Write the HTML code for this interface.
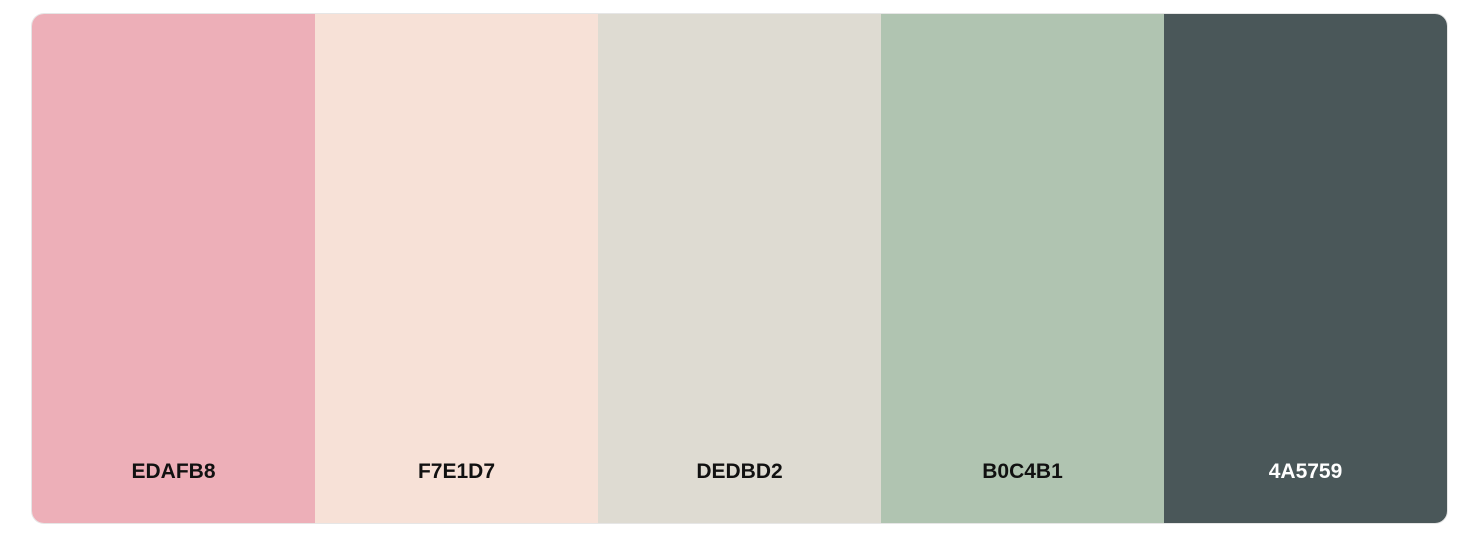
<!DOCTYPE html>
<html><head><meta charset="utf-8"><style>
html,body{margin:0;padding:0;background:#fff;width:1464px;height:543px;overflow:hidden}
#palette{position:absolute;left:32px;top:14px;width:1415px;height:509px;border-radius:12px;overflow:hidden;display:flex;box-shadow:0 0 0 1px #e6e6e6}
.sw{width:283px;height:509px;position:relative}
.sw span{position:absolute;left:0;right:0;top:446px;text-align:center;font:bold 21px "Liberation Sans",sans-serif;color:#111}
</style></head><body>
<div id="palette">
<div class="sw" style="background:#EDAFB8"><span>EDAFB8</span></div>
<div class="sw" style="background:#F7E1D7"><span>F7E1D7</span></div>
<div class="sw" style="background:#DEDBD2"><span>DEDBD2</span></div>
<div class="sw" style="background:#B0C4B1"><span>B0C4B1</span></div>
<div class="sw" style="background:#4A5759"><span style="color:#fff">4A5759</span></div>
</div>
</body></html>
